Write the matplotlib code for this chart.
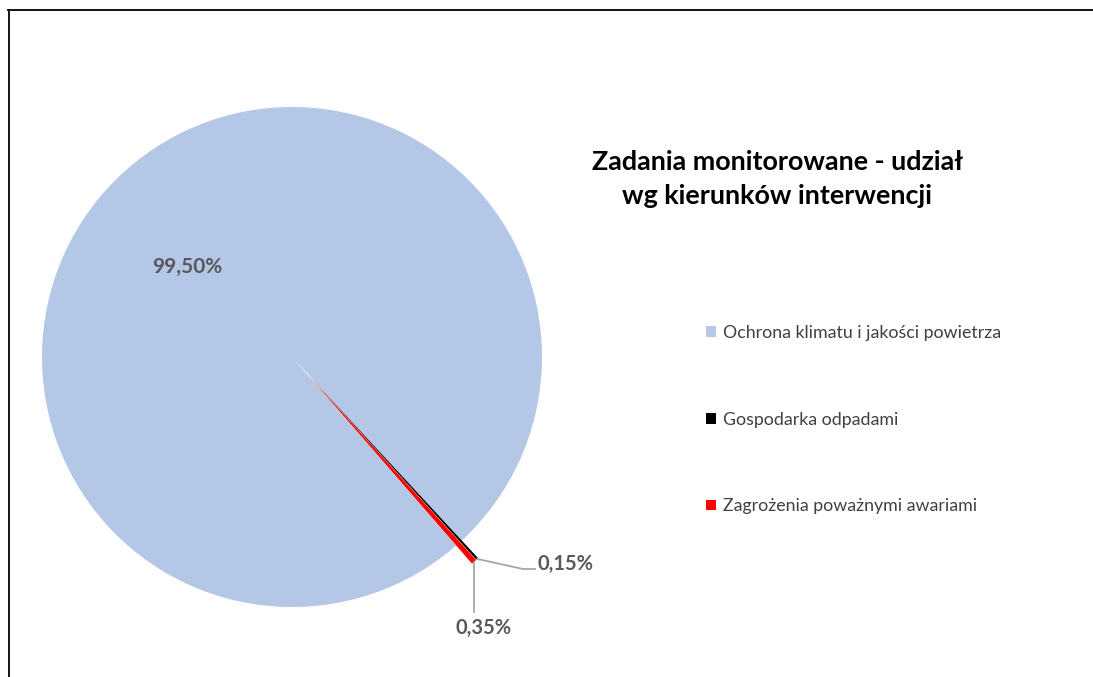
import numpy as np
import matplotlib.pyplot as plt
from matplotlib.lines import Line2D

# data
categories = ["Ochrona klimatu i jakości powietrza", "Gospodarka odpadami",
              "Zagrożenia poważnymi awariami"]
shares = [99.50, 0.15, 0.35]
share_labels = ["99,50%", "0,15%", "0,35%"]
colors = ["#B4C7E7", "#000000", "#FF0000"]
title = "Zadania monitorowane - udział\nwg kierunków interwencji"

W, H = 1093, 677
plt.rcParams["font.family"] = ["Lato", "DejaVu Sans"]

fig = plt.figure(figsize=(W / 100, H / 100), dpi=100)
ax = fig.add_axes([0, 0, 1, 1])
ax.axis("off")

cx, cy, r = 292, H - 357, 250
# small slices pulled out a little (explode is in data units here)
explode = [0, 24, 24]
wedges, _ = ax.pie(shares, colors=colors, explode=explode, startangle=-49,
                   counterclock=False, center=(cx, cy), radius=r,
                   wedgeprops=dict(linewidth=0))
ax.set_xlim(0, W)
ax.set_ylim(0, H)
ax.set_aspect("equal")


def edge_point(w):
    mid = np.deg2rad((w.theta1 + w.theta2) / 2)
    wx, wy = w.center
    return wx + r * np.cos(mid), wy + r * np.sin(mid)


lead = "#A6A6A6"
lab_col = "#595959"

# 0,15% leader
x0, y0 = edge_point(wedges[1])
ax.plot([x0, 523, 535], [y0, H - 569, H - 569], color=lead, lw=1.3)
ax.text(537, H - 564, share_labels[1], color=lab_col, fontsize=14.5,
        fontweight="bold", ha="left", va="center")

# 0,35% leader
x1, y1 = edge_point(wedges[2])
ax.plot([x1, x1], [y1, H - 612], color=lead, lw=1.3)
ax.text(x1 + 10, H - 628, share_labels[2], color=lab_col, fontsize=14.5,
        fontweight="bold", ha="center", va="center")

ax.text(187, H - 267, share_labels[0], color=lab_col, fontsize=15,
        fontweight="bold", ha="center", va="center")

ax.text(777, H - 179, title, fontsize=19.4, fontweight="bold", color="#000000",
        ha="center", va="center", linespacing=1.45)

leg = ax.legend(wedges, categories, loc="upper left",
                bbox_to_anchor=(690 / W, 1 - 309 / H), frameon=False,
                fontsize=12.8, handlelength=0.55, handleheight=0.55,
                handletextpad=0.4, labelspacing=3.97)
for t in leg.get_texts():
    t.set_color("#404040")

# chart border
fig.add_artist(Line2D([8 / W, 1], [1 - 9.5 / H, 1 - 9.5 / H], color="black", lw=1.3))
fig.add_artist(Line2D([8.5 / W, 8.5 / W], [0, 1 - 9.5 / H], color="black", lw=1.3))

fig.savefig("out.png", dpi=100)
